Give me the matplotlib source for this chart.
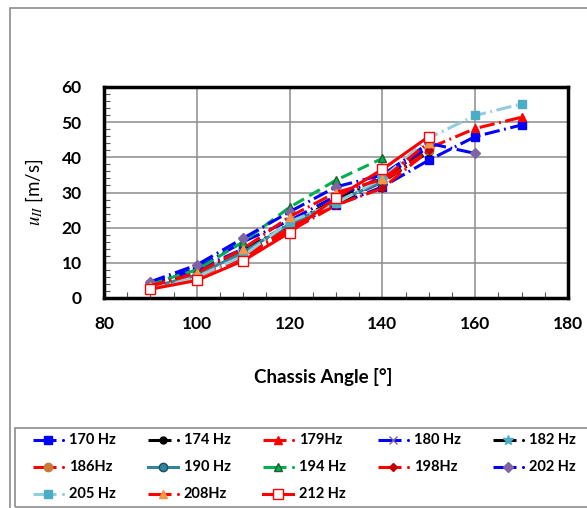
import matplotlib
matplotlib.use("Agg")
import matplotlib.pyplot as plt
from matplotlib.patches import Rectangle
from matplotlib.lines import Line2D
from matplotlib.ticker import MultipleLocator

plt.rcParams['font.family'] = ['Lato', 'DejaVu Sans']
plt.rcParams['mathtext.fontset'] = 'stix'

angles = [90, 100, 110, 120, 130, 140, 150, 160, 170]

labels = ['170 Hz', '174 Hz', '179Hz', '180 Hz', '182 Hz', '186Hz', '190 Hz',
          '194 Hz', '198Hz', '202 Hz', '205 Hz', '208Hz', '212 Hz']

v170 = [3.5, 8.0, 14.0, 20.0, 26.4, 31.6, 39.2, 45.9, 49.2]
v174 = [3.0, 7.0, 13.0, 20.5, 27.0, 33.0, 41.5]
v179 = [3.0, 6.5, 12.0, 19.5, 27.0, 35.0, 42.6, 48.2, 51.4]
v180 = [4.0, 8.5, 16.0, 22.0, 29.0, 34.0, 43.0]
v182 = [3.0, 7.0, 13.5, 21.0, 28.0, 33.5, 42.0]
v186 = [3.0, 6.5, 12.5, 20.0, 27.5, 33.0, 42.0]
v190 = [3.0, 6.5, 13.0, 21.0, 27.5, 33.0]
v194 = [4.0, 8.0, 16.0, 25.8, 33.5, 39.7]
v198 = [3.0, 6.0, 11.5, 19.0, 26.4, 31.2, 42.0]
v202 = [4.6, 9.4, 17.0, 24.5, 31.6, 35.0, 44.0, 41.1]
v205 = [2.5, 6.0, 12.0, 21.7, 27.0, 34.0, 45.5, 51.9, 55.2]
v208 = [3.5, 7.1, 14.0, 23.1, 30.0, 33.7, 44.2]
v212 = [2.5, 5.0, 10.6, 18.6, 28.5, 36.6, 45.9]

series = [v170, v174, v179, v180, v182, v186, v190, v194, v198, v202, v205, v208, v212]

dd = (0, (5, 1.5, 0.6, 1.5))
dash = (0, (4, 2))
styles = [
    dict(color='#0000FF', ls=dd, marker='s', mfc='#0000FF', mec='#0000FF'),
    dict(color='#000000', ls=dd, marker='o', mfc='#000000', mec='#000000'),
    dict(color='#FF0000', ls=dd, marker='^', mfc='#FF0000', mec='#FF0000'),
    dict(color='#0000FF', ls=dd, marker='x', mfc='#7F60A0', mec='#7F60A0'),
    dict(color='#000000', ls=dd, marker='*', mfc='#4BACC6', mec='#4BACC6'),
    dict(color='#FF0000', ls=dd, marker='o', mfc='#C87A3A', mec='#C87A3A'),
    dict(color='#31859C', ls='-', marker='o', mfc='#31859C', mec='#1F4E5F'),
    dict(color='#00B050', ls=dash, marker='^', mfc='#00B050', mec='#1E5F30'),
    dict(color='#FF0000', ls=dd, marker='D', mfc='#C00000', mec='#C00000'),
    dict(color='#0000FF', ls=dd, marker='D', mfc='#8064A2', mec='#8064A2'),
    dict(color='#92CDDC', ls=dd, marker='s', mfc='#4BACC6', mec='#4BACC6'),
    dict(color='#FF0000', ls=dd, marker='^', mfc='#F79646', mec='#F79646'),
    dict(color='#FF0000', ls='-', marker='s', mfc='white', mec='#FF0000'),
]
msizes = [6, 5, 6, 6, 7, 6, 6, 6, 4.5, 5, 6, 6, 6.5]

W, H = 587, 508
fig = plt.figure(figsize=(W / 100, H / 100), dpi=100)
fig.patch.set_facecolor('white')

ax = fig.add_axes([104 / W, 1 - 298 / H, 464 / W, 211 / H])

for vals, st, ms, lab in zip(series, styles, msizes, labels):
    x = angles[:len(vals)]
    ax.plot(x, vals, color=st['color'], linestyle=st['ls'], lw=2.2,
            marker=st['marker'], markersize=ms, markerfacecolor=st['mfc'],
            markeredgecolor=st['mec'], markeredgewidth=1.0, label=lab)

ax.set_xlim(80, 180)
ax.set_ylim(0, 60)
ax.xaxis.set_major_locator(MultipleLocator(20))
ax.xaxis.set_minor_locator(MultipleLocator(5))
ax.yaxis.set_major_locator(MultipleLocator(10))
ax.yaxis.set_minor_locator(MultipleLocator(2))
ax.grid(True, which='major', color='#8c8c8c', lw=1.1)
ax.set_axisbelow(True)
ax.tick_params(which='both', direction='in', top=False, right=False)
ax.tick_params(which='major', length=0, labelsize=12.5)
ax.tick_params(axis='y', which='major', pad=16)
ax.tick_params(axis='x', which='major', pad=13)
ax.tick_params(which='minor', length=4, width=0.8, color='#555555')
for lab in ax.get_xticklabels() + ax.get_yticklabels():
    lab.set_fontweight('bold')
for sp in ax.spines.values():
    sp.set_linewidth(2.5)
    sp.set_color('black')

ax.set_xlabel('Chassis Angle [°]', fontsize=13.5, fontweight='bold')
ax.xaxis.set_label_coords((323 - 104) / 464, -(368 - 298) / 211)
ax.set_ylabel(r'$u_{II}$ [m/s]', fontsize=13.5)
ax.yaxis.set_label_coords(-(104 - 45) / 464, 0.5)

# chart outer border
fig.add_artist(Rectangle((10 / W, -0.1), 2, 1.1 - 8 / H, transform=fig.transFigure,
                         fill=False, edgecolor='#8c8c8c', lw=1.2))
# legend frame
fig.add_artist(Rectangle((15 / W, 1 - 507 / H), 2, 79 / H, transform=fig.transFigure,
                         fill=False, edgecolor='#8c8c8c', lw=1.2))

# manual legend, row-major order, 5 columns
for i, (st, ms, lab) in enumerate(zip(styles, msizes, labels)):
    r, c = divmod(i, 5)
    x0 = 33 + 115 * c
    yc = 1 - (440 + 27 * r) / H
    fx = lambda px: px / W
    if st['ls'] == '-':
        fig.add_artist(Line2D([fx(x0), fx(x0 + 30)], [yc, yc], color=st['color'], lw=2.2,
                              transform=fig.transFigure))
    else:
        fig.add_artist(Line2D([fx(x0), fx(x0 + 23)], [yc, yc], color=st['color'], lw=2.2,
                              transform=fig.transFigure, solid_capstyle='butt'))
        fig.add_artist(Line2D([fx(x0 + 29.5)], [yc], color=st['color'], marker='o',
                              markersize=2.2, markeredgewidth=0, linestyle='none',
                              transform=fig.transFigure))
    fig.add_artist(Line2D([fx(x0 + 15)], [yc], marker=st['marker'], markersize=ms,
                          markerfacecolor=st['mfc'], markeredgecolor=st['mec'],
                          markeredgewidth=1.0, linestyle='none', transform=fig.transFigure))
    fig.text(fx(x0 + 36), yc, lab, fontsize=10.5, fontweight='bold', va='center', ha='left')

fig.savefig('out.png', dpi=100)
